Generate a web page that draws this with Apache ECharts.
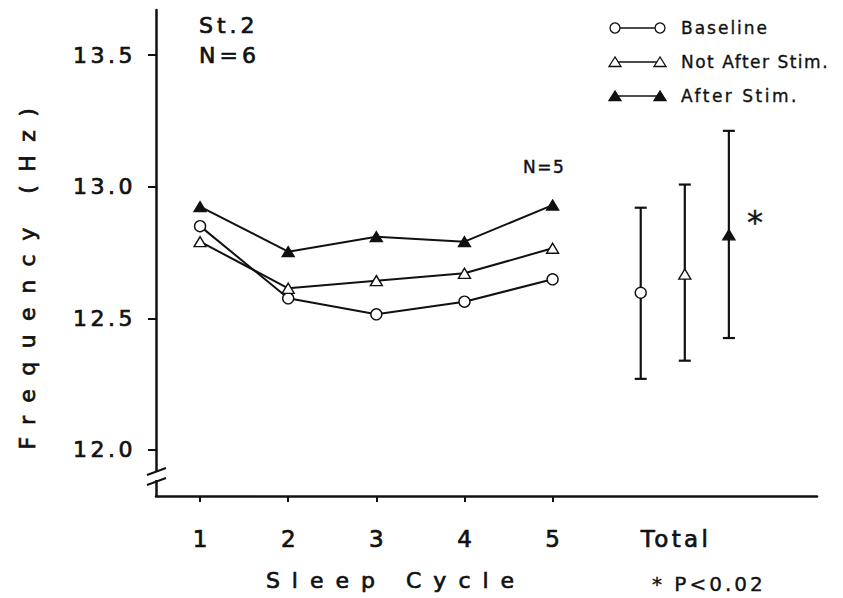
<!DOCTYPE html>
<html>
<head>
<meta charset="utf-8">
<script src="https://cdn.jsdelivr.net/npm/echarts@6/dist/echarts.min.js"></script>
<style>
html, body { margin: 0; padding: 0; background: #fff; }
#main { width: 843px; height: 598px; }
</style>
</head>
<body>
<div id="main"></div>
<script>
// sleep cycle values (Hz)
var cycles = [1, 2, 3, 4, 5];
var baseline = [12.85, 12.576, 12.515, 12.563, 12.648];
var notAfterStim = [12.791, 12.614, 12.643, 12.671, 12.766];
var afterStim = [12.924, 12.753, 12.81, 12.791, 12.93];

// Total column: mean with error range
var totalPos = [6, 6.5, 7];
var totalMean = [12.597, 12.668, 12.817];
var totalLow = [12.27, 12.339, 12.425];
var totalHigh = [12.92, 13.008, 13.212];

var yTicks = [12.0, 12.5, 13.0, 13.5];
var xLabelPos = [1, 2, 3, 4, 5, 6.4];
var xLabels = ['1', '2', '3', '4', '5', 'Total'];

var ink = '#111';
var font = '"DejaVu Sans", sans-serif';
var thick = 0.7;   // text outline, the print is heavy

// letter spacing of the typed labels (svg text)
var spacing = {
	'13.5': 3.5, '13.0': 3.5, '12.5': 3.5, '12.0': 3.5,
	'Total': 3.4,
	'Sleep Cycle': 12,
	'Frequency (Hz)': 13.5,
	'Baseline': 2, 'Not After Stim.': 1.5, 'After Stim.': 2.5,
	'St.2': 4, 'N=6': 4, 'N=5': 1.5,
	'* P<0.02': 3
};

function pairs(xs, ys){
	var out = [];
	for(var i=0;i<xs.length;i++){
		out.push([xs[i], ys[i]]);
	}
	return out;
}

function tri(x, y, filled){
	return {
		type: 'polygon',
		shape: { points: [[x, y-5], [x-6, y+4.5], [x+6, y+4.5]] },
		style: { fill: filled ? ink : '#fff', stroke: ink, lineWidth: 1.3 }
	};
}

function legendRow(y, kind, text){
	var items = [{
		type: 'line',
		shape: { x1: 615, y1: y, x2: 660, y2: y },
		style: { stroke: ink, lineWidth: 1.6 }
	}];
	var xs = [615, 660];
	for(var i=0;i<xs.length;i++){
		if(kind == 'circle'){
			items.push({ type: 'circle', shape: { cx: xs[i], cy: y, r: 5 },
				style: { fill: '#fff', stroke: ink, lineWidth: 1.3 } });
		}else{
			items.push(tri(xs[i], y, kind == 'filled'));
		}
	}
	items.push(label(681, y, text, 17, 'left', 0.35));
	return items;
}

function label(x, y, text, size, align, weight){
	return {
		type: 'text', x: x, y: y,
		style: { text: text, font: size + 'px ' + font, fill: ink,
			stroke: ink, lineWidth: weight == null ? thick : weight,
			align: align || 'left', verticalAlign: 'middle' }
	};
}

var graphics = [];
graphics = graphics.concat(legendRow(28, 'circle', 'Baseline'));
graphics = graphics.concat(legendRow(62, 'open', 'Not After Stim.'));
graphics = graphics.concat(legendRow(96, 'filled', 'After Stim.'));
graphics.push(label(199, 25, 'St.2', 22));
graphics.push(label(199, 55, 'N=6', 22));
graphics.push(label(523, 167, 'N=5', 17, 'left', 0.45));
graphics.push(label(755, 222, '*', 32, 'center', 0.4));
graphics.push(label(396, 580, 'Sleep Cycle', 22, 'center'));
graphics.push(label(652, 584, '* P<0.02', 20, 'left', 0.4));
var yName = label(27, 272, 'Frequency (Hz)', 22, 'center');
yName.rotation = Math.PI / 2;
graphics.push(yName);
// axis break
graphics.push({ type: 'rect', shape: { x: 150, y: 472, width: 12, height: 8 }, style: { fill: '#fff' }, z: 100 });
graphics.push({ type: 'line', shape: { x1: 147, y1: 475, x2: 166, y2: 468 }, style: { stroke: ink, lineWidth: 2 }, z: 101 });
graphics.push({ type: 'line', shape: { x1: 147, y1: 485, x2: 166, y2: 478 }, style: { stroke: ink, lineWidth: 2 }, z: 101 });

function lineSeries(name, values, symbol, size, fill){
	return {
		name: name,
		type: 'line',
		data: pairs(cycles, values),
		symbol: symbol,
		symbolSize: size,
		showAllSymbol: true,
		lineStyle: { color: ink, width: 2 },
		itemStyle: { color: fill, borderColor: ink, borderWidth: 1.4 },
		z: 3
	};
}

function totalPoint(i, symbol, size, fill){
	return {
		type: 'scatter',
		data: [[totalPos[i], totalMean[i]]],
		symbol: symbol,
		symbolSize: size,
		itemStyle: { color: fill, borderColor: ink, borderWidth: 1.4, opacity: 1 },
		z: 4
	};
}

var errData = [];
for(var k=0;k<totalPos.length;k++){
	errData.push([totalPos[k], totalLow[k], totalHigh[k]]);
}

var myChart = echarts.init(document.getElementById('main'), null, { renderer: 'svg' });

var option = {
	animation: false,
	backgroundColor: '#fff',
	grid: { left: 156, right: 26, top: 10, bottom: 102 },
	xAxis: {
		type: 'value',
		min: 0.5,
		max: 8,
		splitLine: { show: false },
		axisLine: { lineStyle: { color: ink, width: 2.5 } },
		axisTick: { customValues: cycles, length: 6, lineStyle: { color: ink, width: 2 } },
		axisLabel: {
			customValues: xLabelPos,
			margin: 31,
			color: ink,
			fontFamily: font,
			fontSize: 23,
			textBorderColor: ink,
			textBorderWidth: thick,
			formatter: function(v){
				return xLabels[xLabelPos.indexOf(v)];
			}
		}
	},
	yAxis: {
		type: 'value',
		min: 11.825,
		max: 13.671,
		splitLine: { show: false },
		axisLine: { lineStyle: { color: ink, width: 2.5 } },
		axisTick: { customValues: yTicks, length: 8, lineStyle: { color: ink, width: 2 } },
		axisLabel: {
			customValues: yTicks,
			margin: 20,
			color: ink,
			fontFamily: font,
			fontSize: 22,
			textBorderColor: ink,
			textBorderWidth: thick,
			formatter: function(v){ return v.toFixed(1); }
		}
	},
	graphic: graphics,
	series: [
		{
			type: 'custom',
			data: errData,
			z: 2,
			renderItem: function(params, api){
				var x = api.value(0);
				var lo = api.coord([x, api.value(1)]);
				var hi = api.coord([x, api.value(2)]);
				var st = { stroke: ink, lineWidth: 2.2 };
				return {
					type: 'group',
					children: [
						{ type: 'line', shape: { x1: lo[0], y1: lo[1], x2: hi[0], y2: hi[1] }, style: st },
						{ type: 'line', shape: { x1: lo[0]-6, y1: lo[1], x2: lo[0]+6, y2: lo[1] }, style: st },
						{ type: 'line', shape: { x1: hi[0]-6, y1: hi[1], x2: hi[0]+6, y2: hi[1] }, style: st }
					]
				};
			}
		},
		lineSeries('Baseline', baseline, 'circle', 11, '#fff'),
		lineSeries('Not After Stim.', notAfterStim, 'triangle', [12, 10], '#fff'),
		lineSeries('After Stim.', afterStim, 'triangle', [12, 10], ink),
		totalPoint(0, 'circle', 11, '#fff'),
		totalPoint(1, 'triangle', [12, 10], '#fff'),
		totalPoint(2, 'triangle', [12, 10], ink)
	]
};

myChart.setOption(option);

function applySpacing(){
	var texts = document.querySelectorAll('#main text');
	for(var i=0;i<texts.length;i++){
		var s = spacing[texts[i].textContent];
		if(s != null){
			texts[i].style.letterSpacing = s + 'px';
		}
	}
}
applySpacing();
myChart.on('finished', applySpacing);
setTimeout(applySpacing, 0);
</script>
</body>
</html>
